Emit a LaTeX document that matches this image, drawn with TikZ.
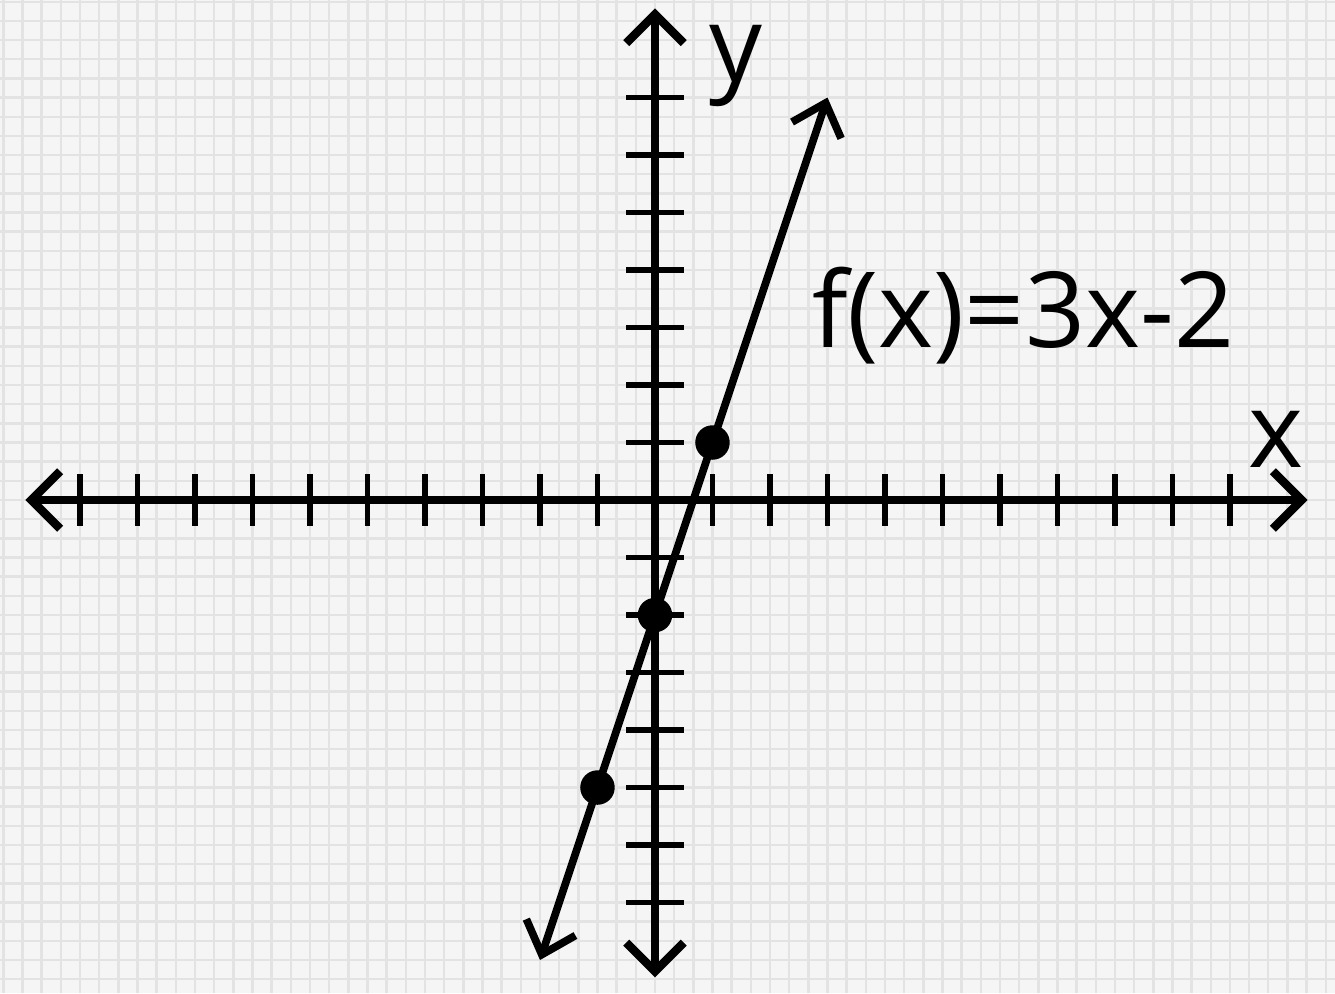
\documentclass[tikz,border=0pt]{standalone}
\usepackage{fontspec}
\newfontfamily\handfont{Open Sans}
\usepackage{xcolor}
\usepackage{tikz}
\usetikzlibrary{positioning,arrows.meta}

\begin{document}
\begin{tikzpicture}[
    paper/.style={fill=black!4, draw=none},
    minorgrid/.style={draw=black!11, line width=1.2pt},
    axis/.style={line width=4.2pt, {Straight Barb[length=5mm, width=10mm]}-{Straight Barb[length=5mm, width=10mm]}},
    tick/.style={line width=2.6pt},
    graphline/.style={line width=3.8pt, {Straight Barb[length=5mm, width=9mm]}-{Straight Barb[length=5mm, width=9mm]}},
    dot/.style={circle, fill=black, inner sep=0pt, minimum size=0.6cm},
    lbl/.style={font=\handfont\fontsize{52}{52}\selectfont, inner sep=0pt},
  ]
  % paper background and faint grid
  \useasboundingbox (-11.391,-8.574) rectangle (11.826,8.696);
  \fill[paper] (-11.391,-8.574) rectangle (11.826,8.696);
  \draw[minorgrid, step=0.3333] (-11.391,-8.574) grid (11.826,8.696);

  % axes -- end points as named coordinates
  \coordinate (xl) at (-10.95,0);
  \coordinate (xr) at (11.35,0);
  \coordinate (yb) at (0,-8.3);
  \coordinate (yt) at (0,8.55);
  \draw[axis] (xl) -- (xr);
  \draw[axis] (yb) -- (yt);

  % tick marks
  \foreach \i in {-10,...,-1,1,2,...,10}
    \draw[tick] (\i,-0.45) -- (\i,0.45);
  \foreach \j in {-7,...,-1,1,2,...,7}
    \draw[tick] (-0.5,\j) -- (0.5,\j);

  % axis labels
  \node[lbl] (ylab) at (1.4,7.55) {y};
  \node[lbl] (xlab) at (10.8,1.05) {x};

  % the graph of f and its plotted points
  \coordinate (lo) at (-2,-8);
  \coordinate (hi) at (3,7);
  \draw[graphline] (lo) -- (hi);
  \node[dot] (p1) at (1,1) {};
  \node[dot] (p0) at (0,-2) {};
  \node[dot] (pm) at (-1,-5) {};

  \node[lbl] (flab) at (6.4,3.2) {f(x)=3x-2};
\end{tikzpicture}
\end{document}
